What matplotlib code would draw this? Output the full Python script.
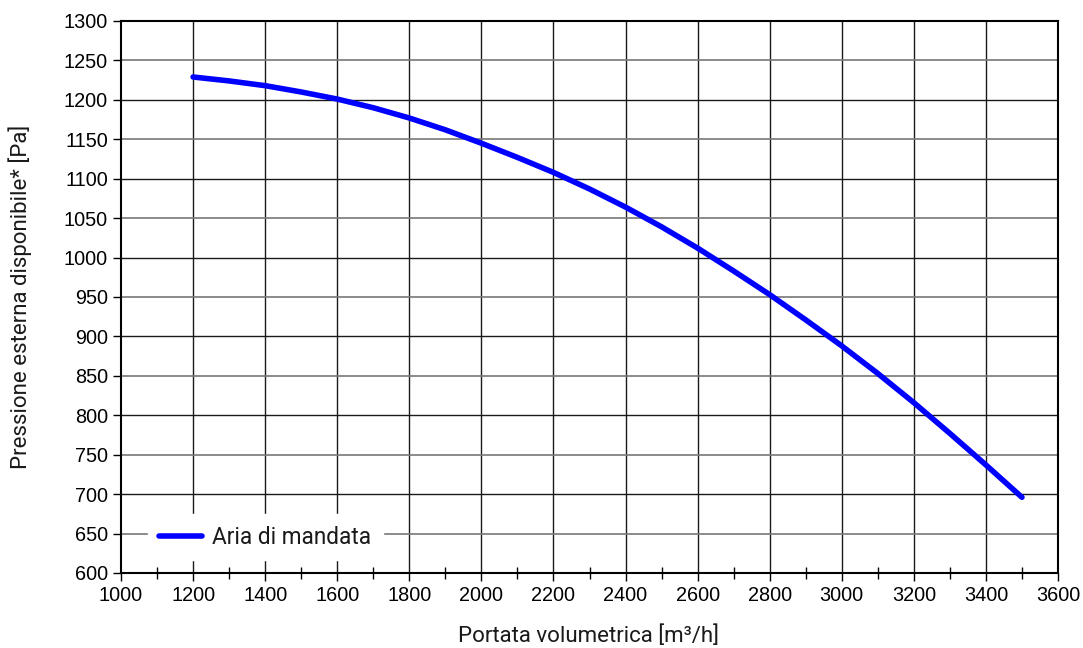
import numpy as np
import matplotlib.pyplot as plt
from matplotlib.ticker import MultipleLocator

# curve, every 100 m3/h
flow = [1200, 1300, 1400, 1500, 1600, 1700, 1800, 1900, 2000, 2100, 2200, 2300,
        2400, 2500, 2600, 2700, 2800, 2900, 3000, 3100, 3200, 3300, 3400, 3500]
pressure = [1229, 1224, 1218, 1210, 1201, 1190, 1177, 1162, 1145, 1127, 1108, 1087,
            1064, 1039, 1012, 983, 953, 921, 888, 853, 816, 777, 737, 696]

xlabel = "Portata volumetrica [m³/h]"
ylabel = "Pressione esterna disponibile* [Pa]"
series_name = "Aria di mandata"

fig = plt.figure(figsize=(10.83, 6.48), dpi=100)
ax = fig.add_axes([121 / 1083, 1 - 573 / 648, (1058 - 121) / 1083, (573 - 21) / 648])

ax.set_xlim(1000, 3600)
ax.set_ylim(600, 1300)
ax.xaxis.set_major_locator(MultipleLocator(200))
ax.xaxis.set_minor_locator(MultipleLocator(100))
ax.yaxis.set_major_locator(MultipleLocator(50))

# grid: verticals dark, horizontals alternate dark / grey
for xv in np.arange(1200, 3600, 200):
    ax.axvline(xv, color="#1a1a1a", lw=1.0, zorder=1)
for yv in np.arange(650, 1300, 50):
    c = "#1a1a1a" if yv % 100 == 0 else "#777777"
    ax.axhline(yv, color=c, lw=1.2 if yv % 100 else 1.0, zorder=1)

line, = ax.plot(flow, pressure, color="#0000ff", lw=4, solid_capstyle="round",
                solid_joinstyle="round", label=series_name, zorder=3)

for s in ax.spines.values():
    s.set_linewidth(1.5)
    s.set_color("black")

ax.tick_params(axis="both", which="major", direction="out", length=6, width=1,
               labelsize=14.3, colors="black")
ax.tick_params(axis="x", which="minor", direction="inout", length=8, width=1)
for lab in ax.get_xticklabels() + ax.get_yticklabels():
    lab.set_fontfamily("Liberation Sans")

ax.set_xlabel(xlabel, fontsize=16, family="Roboto", color="#1a1a1a")
ax.set_ylabel(ylabel, fontsize=16, family="Roboto", color="#1a1a1a")
ax.xaxis.set_label_coords((589 - 121) / 937, (573 - 636) / 552)
ax.yaxis.set_label_coords((20 - 121) / 937, 0.5)
ax.xaxis.label.set_va("center")
ax.yaxis.label.set_va("center")

leg = ax.legend(loc="center left", bbox_to_anchor=(0.0165, (573 - 537) / 552),
                frameon=True, fancybox=False, edgecolor="white", framealpha=1,
                prop={"family": "Roboto", "size": 16.3},
                handlelength=1.9, handletextpad=0.45, borderpad=0.5)
for t in leg.get_texts():
    t.set_color("#1a1a1a")
leg.set_zorder(5)

fig.savefig("out.png", dpi=100)
